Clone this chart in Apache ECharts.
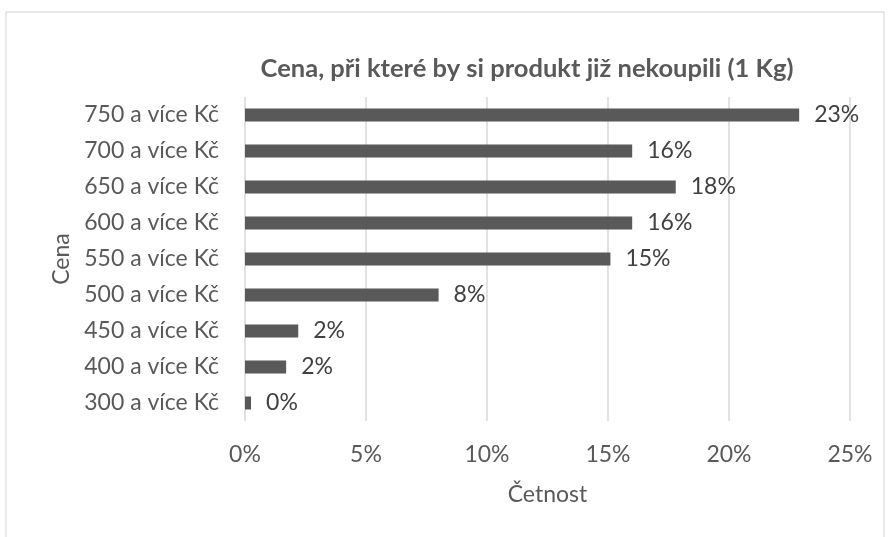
<!DOCTYPE html>
<html>
<head>
<meta charset="utf-8">
<script src="https://cdn.jsdelivr.net/npm/echarts@6/dist/echarts.min.js"></script>
<style>
  html, body { margin: 0; padding: 0; background: #fff; }
  #chart { width: 891px; height: 537px; }
</style>
</head>
<body>
<div id="chart"></div>
<script>
// kategorie odshora dolů jako v grafu
const categories = [
  '750 a více Kč', '700 a více Kč', '650 a více Kč', '600 a více Kč', '550 a více Kč',
  '500 a více Kč', '450 a více Kč', '400 a více Kč', '300 a více Kč'
]
// četnost v %
const values = [22.9, 16.0, 17.8, 16.0, 15.1, 8.0, 2.2, 1.7, 0.25]
const xTicks = [0, 5, 10, 15, 20, 25]

const font = 'Lato, "Open Sans", sans-serif'
const chart = echarts.init(document.getElementById('chart'))

const option = {
  animation: false,
  backgroundColor: '#fff',
  textStyle: { fontFamily: font },
  graphic: [
    {
      type: 'rect',
      shape: { x: 6, y: 12, width: 878, height: 560 },
      style: { fill: 'none', stroke: '#e2e2e2', lineWidth: 1.5 },
      silent: true,
    },
  ],
  title: {
    text: 'Cena, při které by si produkt již nekoupili (1 Kg)',
    left: 522,
    top: 51,
    textAlign: 'center',
    textStyle: { fontFamily: font, fontSize: 25.5, fontWeight: 'bold', color: '#595959' },
  },
  grid: { left: 245, right: 41, top: 97, bottom: 116 },
  xAxis: {
    type: 'value',
    min: xTicks[0],
    max: xTicks[xTicks.length - 1],
    interval: 5,
    name: 'Četnost',
    nameLocation: 'middle',
    nameGap: 62,
    nameTextStyle: { fontFamily: font, fontSize: 23, color: '#595959' },
    axisLine: { show: false },
    axisTick: { show: false },
    axisLabel: {
      margin: 22,
      fontSize: 23,
      color: '#595959',
      formatter: (v) => v + '%',
    },
    splitLine: { show: true, lineStyle: { color: '#d9d9d9', width: 1.5 } },
  },
  yAxis: {
    type: 'category',
    data: categories,
    inverse: true,
    name: 'Cena',
    nameLocation: 'middle',
    nameGap: 172,
    nameRotate: 90,
    nameTextStyle: { fontFamily: font, fontSize: 23, color: '#595959' },
    axisLine: { show: false },
    axisTick: { show: false },
    axisLabel: { margin: 26, fontSize: 23, color: '#595959' },
  },
  series: [
    {
      type: 'bar',
      data: values,
      barWidth: 13,
      itemStyle: { color: '#595959' },
      label: {
        show: true,
        position: 'right',
        distance: 15,
        fontSize: 23,
        color: '#404040',
        formatter: (p) => Math.round(p.value) + '%',
      },
    },
  ],
}

chart.setOption(option)
</script>
</body>
</html>
